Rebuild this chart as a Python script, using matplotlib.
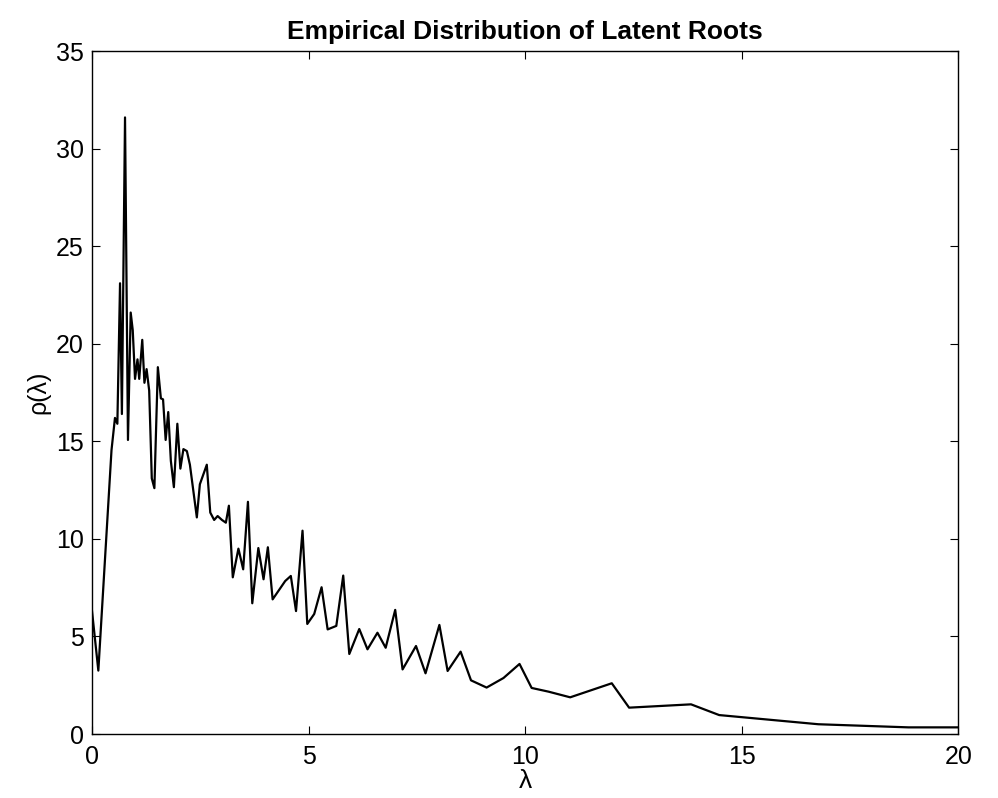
import matplotlib
matplotlib.use("Agg")
import matplotlib.pyplot as plt

plt.rcParams['font.family'] = ['Liberation Sans', 'DejaVu Sans']

# Empirical density of latent roots
lam = [0.0, 0.146, 0.45, 0.53, 0.585, 0.647, 0.69, 0.762, 0.83, 0.893, 0.94,
       0.993, 1.05, 1.09, 1.16, 1.21, 1.26, 1.32, 1.38, 1.44, 1.52, 1.59,
       1.64, 1.70, 1.76, 1.82, 1.89, 1.97, 2.04, 2.11, 2.19, 2.26, 2.42,
       2.49, 2.65, 2.73, 2.82, 2.90, 3.00, 3.09, 3.16, 3.25, 3.38, 3.49,
       3.60, 3.70, 3.84, 3.96, 4.06, 4.17, 4.46, 4.59, 4.71, 4.86, 4.97,
       5.13, 5.30, 5.44, 5.64, 5.80, 5.94, 6.17, 6.36, 6.59, 6.78, 7.00,
       7.17, 7.48, 7.70, 8.02, 8.21, 8.51, 8.75, 9.11, 9.50, 9.87, 10.15,
       10.54, 11.04, 12.00, 12.40, 13.83, 14.48, 16.77, 18.85, 20.0]
rho = [6.3, 3.25, 14.55, 16.2, 15.9, 23.1, 16.4, 31.6, 15.07, 21.6, 20.7,
       18.2, 19.2, 18.2, 20.2, 18.0, 18.7, 17.6, 13.1, 12.6, 18.8, 17.2,
       17.15, 15.07, 16.5, 14.0, 12.65, 15.9, 13.6, 14.6, 14.5, 13.8, 11.1,
       12.8, 13.8, 11.35, 10.97, 11.17, 10.97, 10.83, 11.7, 8.03, 9.5, 8.44,
       11.9, 6.7, 9.53, 7.93, 9.57, 6.9, 7.84, 8.1, 6.3, 10.42, 5.64,
       6.15, 7.52, 5.36, 5.54, 8.12, 4.1, 5.38, 4.34, 5.19, 4.42, 6.36,
       3.31, 4.51, 3.11, 5.59, 3.23, 4.22, 2.75, 2.38, 2.87, 3.59, 2.36,
       2.17, 1.88, 2.6, 1.35, 1.52, 0.97, 0.50, 0.34, 0.34]

xticks = [0, 5, 10, 15, 20]
yticks = [0, 5, 10, 15, 20, 25, 30, 35]

fig = plt.figure(figsize=(9.98, 7.98), dpi=100)
ax = fig.add_axes([0.0922, 0.0802, 0.8680, 0.8558])
ax.plot(lam, rho, color='black', linewidth=1.6)

ax.set_xlim(0, 20)
ax.set_ylim(0, 35)
ax.set_xticks(xticks)
ax.set_yticks(yticks)
ax.tick_params(direction='in', length=6, width=0.8, top=True, right=True,
               labelsize=18)
ax.tick_params(axis='x', pad=8)
ax.tick_params(axis='y', pad=6)
for s in ax.spines.values():
    s.set_linewidth(1.0)

ax.set_title('Empirical Distribution of Latent Roots', fontsize=19,
             fontweight='bold', pad=9)
ax.set_xlabel('λ', fontsize=19, labelpad=0)
ax.set_ylabel('ρ(λ)', fontsize=18, labelpad=4)

fig.savefig('out.png', dpi=100, facecolor='white')
